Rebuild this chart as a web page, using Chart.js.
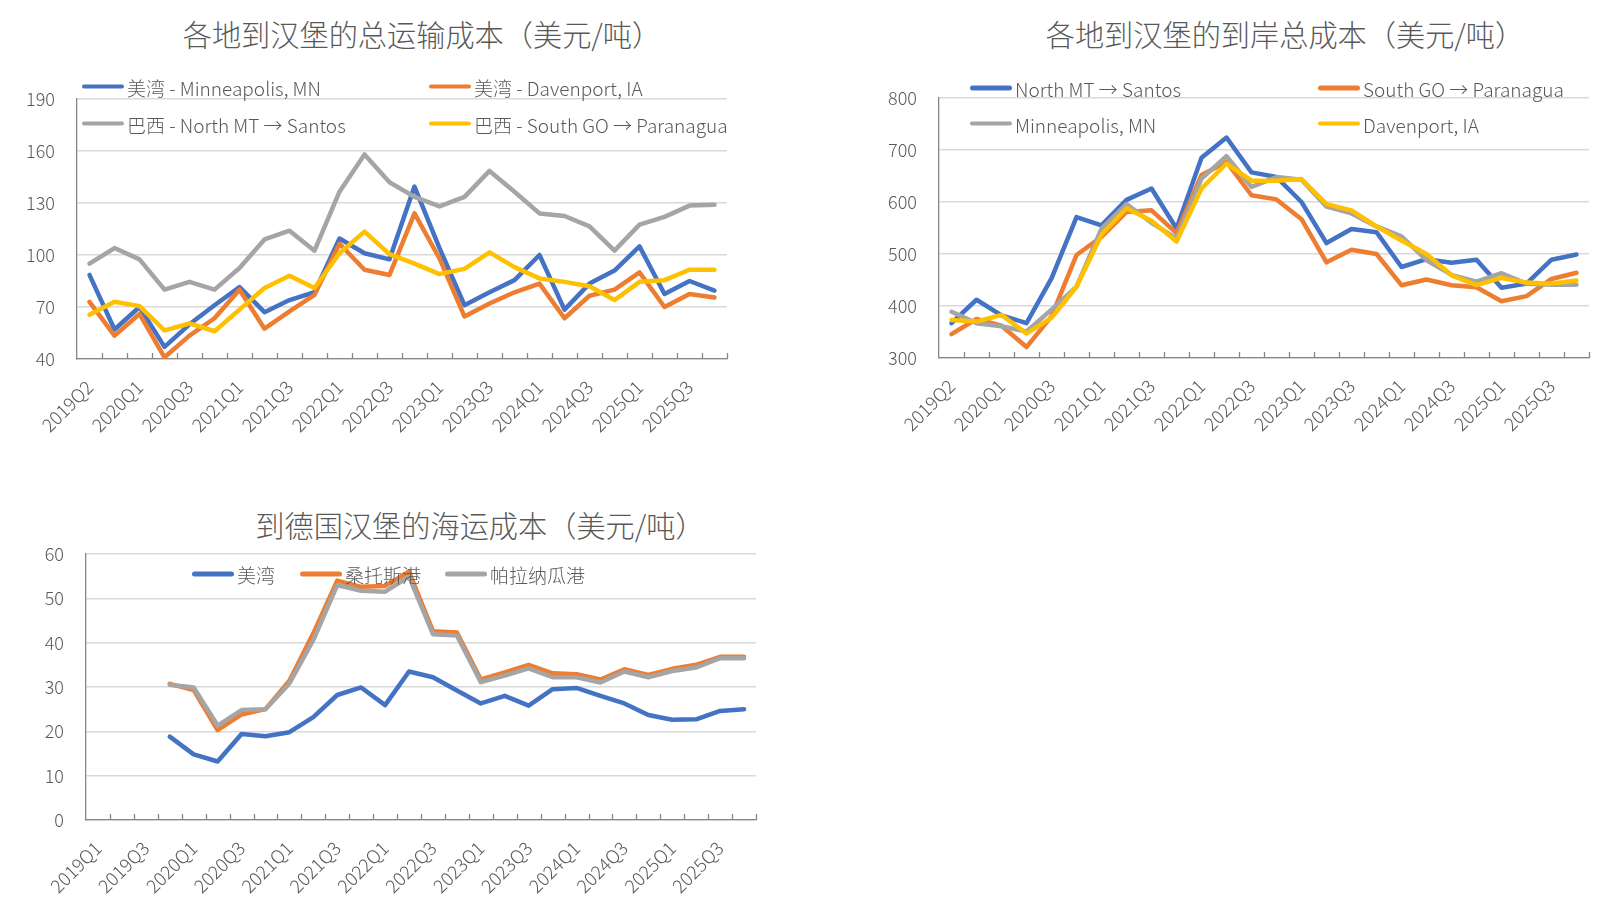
<!DOCTYPE html>
<html>
<head>
<meta charset="utf-8">
<script src="https://cdn.jsdelivr.net/npm/chart.js@4"></script>
<style>
  body { margin: 0; background: #fff; }
  #wrap { position: relative; width: 1614px; height: 906px; overflow: hidden;
          font-family: "Noto Sans CJK SC", "Noto Sans", sans-serif; color: #595959; font-weight: 300; }
  canvas { position: absolute; }
  .title { position: absolute; transform: translate(-50%, -50%); white-space: nowrap; font-size: 29.2px; }
  .leg { position: absolute; transform: translateY(-50%); white-space: nowrap; font-size: 19px;
         display: flex; align-items: center; }
  .leg i { display: inline-block; width: 42px; height: 4.5px; border-radius: 3px; margin-right: 3px; }
</style>
</head>
<body>
<div id="wrap">
  <div class="title" style="left:422px;top:33px">各地到汉堡的总运输成本（美元/吨）</div>
  <div class="title" style="left:1285px;top:33px">各地到汉堡的到岸总成本（美元/吨）</div>
  <div class="title" style="left:480px;top:524px">到德国汉堡的海运成本（美元/吨）</div>

  <canvas id="c1" width="760" height="450" style="left:0;top:0;width:760px;height:450px"></canvas>
  <canvas id="c2" width="754" height="450" style="left:860px;top:0;width:754px;height:450px"></canvas>
  <canvas id="c3" width="790" height="436" style="left:0;top:470px;width:790px;height:436px"></canvas>

  <div id="leg1"></div>
  <div id="leg2"></div>
  <div id="leg3"></div>
</div>

<script>
// ---- data ----
const quarters1 = ['2019Q2','2019Q4','2020Q1','2020Q2','2020Q3','2020Q4','2021Q1','2021Q2','2021Q3','2021Q4',
  '2022Q1','2022Q2','2022Q3','2022Q4','2023Q1','2023Q2','2023Q3','2023Q4','2024Q1','2024Q2','2024Q3','2024Q4',
  '2025Q1','2025Q2','2025Q3','2025Q4'];
const quarters3 = ['2019Q1','2019Q2','2019Q3','2019Q4','2020Q1','2020Q2','2020Q3','2020Q4','2021Q1','2021Q2',
  '2021Q3','2021Q4','2022Q1','2022Q2','2022Q3','2022Q4','2023Q1','2023Q2','2023Q3','2023Q4','2024Q1','2024Q2',
  '2024Q3','2024Q4','2025Q1','2025Q2','2025Q3','2025Q4'];

// chart 1: total transport cost to Hamburg
const usMinneapolis = [88.5, 57, 70, 47, 60, 71, 81.5, 67, 74, 78.5, 109.5, 101, 97.5, 139.5, 104, 71, 78.5, 85.5, 100, 68.5, 83.5, 91, 105, 77.5, 85, 79.5];
const usDavenport = [73, 53.5, 66, 41, 53.5, 63.5, 80, 57.5, 67.5, 77, 106.5, 91.5, 88.5, 124, 98, 64.5, 72, 78.5, 83.5, 63.5, 76.5, 80, 90, 70, 77.5, 75.5];
const brNorthMT = [95, 104, 97.5, 80, 84.5, 80, 92.5, 109, 114, 102.5, 136.5, 158, 142, 133.5, 128, 133.5, 148.5, 136.5, 124, 122.5, 116.5, 102.5, 117.5, 122, 128.5, 129];
const brSouthGO = [65.5, 73, 70.5, 56.5, 60.5, 56, 68.5, 81, 88, 81, 101, 113.5, 100.5, 95, 89, 92, 101.5, 93, 86.5, 84.5, 82, 74, 84.5, 85.5, 91.5, 91.5];
const names1 = ['美湾 - Minneapolis, MN', '美湾 - Davenport, IA', '巴西 - North MT → Santos', '巴西 - South GO → Paranagua'];

// chart 2: landed total cost
const landedSantos = [367, 412, 382, 367, 453, 571, 555, 604, 626, 549, 685, 724, 657, 648, 600, 521, 548, 542, 475, 490, 483, 489, 435, 443, 489, 499];
const landedParanagua = [346, 375, 362, 321, 380, 498, 533, 581, 584, 540, 652, 677, 613, 605, 567, 484, 508, 500, 440, 451, 440, 436, 409, 419, 452, 464];
const landedMinneapolis = [389, 367, 361, 351, 393, 437, 549, 596, 560, 530, 645, 688, 629, 648, 643, 591, 578, 553, 534, 488, 460, 447, 463, 443, 441, 441];
const landedDavenport = [373, 370, 383, 347, 377, 437, 537, 588, 564, 524, 626, 674, 641, 641, 644, 596, 584, 553, 526, 500, 459, 440, 454, 445, 443, 449];
const names2 = ['North MT → Santos', 'South GO → Paranagua', 'Minneapolis, MN', 'Davenport, IA'];

// chart 3: ocean freight to Hamburg
const oceanGulf = [null, null, null, 18.8, 14.8, 13.2, 19.4, 18.9, 19.8, 23.2, 28.2, 29.9, 25.9, 33.5, 32.2, 29.2, 26.3, 28, 25.8, 29.5, 29.8, 28, 26.3, 23.7, 22.6, 22.7, 24.6, 25];
const oceanSantos = [null, null, null, 30.7, 29.3, 20.3, 23.8, 25, 31.4, 42.1, 54, 52.6, 52.8, 56, 42.6, 42.3, 31.7, 33.3, 35, 33.1, 32.9, 31.7, 34, 32.7, 34.1, 35, 36.8, 36.8];
const oceanParanagua = [null, null, null, 30.5, 29.9, 21.3, 24.8, 25, 30.8, 40.6, 53, 51.7, 51.5, 54.9, 41.9, 41.6, 31.1, 32.6, 34.2, 32.2, 32.2, 31, 33.5, 32.2, 33.6, 34.4, 36.5, 36.5];
const names3 = ['美湾', '桑托斯港', '帕拉纳瓜港'];

const colors = ['#4472C4', '#ED7D31', '#A5A5A5', '#FFC000'];
const textColor = '#595959';
const axisColor = '#868686';
const gridColor = '#D9D9D9';

Chart.defaults.font.family = "'Noto Sans CJK SC', 'Noto Sans', sans-serif";
Chart.defaults.font.weight = 300;
Chart.defaults.color = textColor;

// Excel style tick marks pointing into the plot
const insideTicks = {
  id: 'insideTicks',
  beforeDatasetsDraw(chart) {
    const x = chart.scales.x;
    const ctx = chart.ctx;
    const n = chart.data.labels.length;
    const step = (x.right - x.left) / n;
    ctx.save();
    ctx.strokeStyle = axisColor;
    ctx.lineWidth = 1.3;
    for (let i = 1; i <= n; i++) {
      const px = Math.round(x.left + step * i) + 0.5;
      ctx.beginPath();
      ctx.moveTo(px, x.top);
      ctx.lineTo(px, x.top - 6);
      ctx.stroke();
    }
    ctx.restore();
  }
};

function makeChart(id, labels, series, names, yOpts, box) {
  const datasets = series.map((d, i) => ({
    label: names[i],
    data: d,
    borderColor: colors[i],
    backgroundColor: colors[i],
    borderWidth: 4.5,
    pointRadius: 0,
    tension: 0,
    fill: false,
    borderJoinStyle: 'round',
    borderCapStyle: 'round',
    order: -i
  }));

  return new Chart(document.getElementById(id), {
    type: 'line',
    data: { labels: labels, datasets: datasets },
    options: {
      responsive: false,
      animation: false,
      layout: { padding: { top: box.top, right: box.right, left: 0, bottom: 0 } },
      plugins: { legend: { display: false }, tooltip: { enabled: false } },
      scales: {
        x: {
          offset: true,
          grid: { display: true, drawOnChartArea: false, drawTicks: false, offset: true },
          border: { color: axisColor, width: 1.3 },
          ticks: {
            autoSkip: false,
            minRotation: 45,
            maxRotation: 45,
            padding: 17,
            color: textColor,
            font: { size: 18.5 },
            callback: function (v, i) { return i % 2 === 0 ? this.getLabelForValue(v) : ''; }
          },
          afterFit: s => { s.height = box.xh; }
        },
        y: {
          min: yOpts.min,
          max: yOpts.max,
          grid: { color: gridColor, lineWidth: 1.5, drawTicks: false },
          border: { color: axisColor, width: 1.3 },
          ticks: { stepSize: yOpts.step, padding: 22, color: textColor, font: { size: 18 } },
          afterFit: s => { s.width = box.yw; }
        }
      }
    },
    plugins: [insideTicks]
  });
}

function makeLegend(id, items) {
  const el = document.getElementById(id);
  items.forEach(it => {
    const d = document.createElement('div');
    d.className = 'leg';
    d.style.left = it.x + 'px';
    d.style.top = it.y + 'px';
    const line = document.createElement('i');
    line.style.background = it.color;
    d.appendChild(line);
    d.appendChild(document.createTextNode(it.text));
    el.appendChild(d);
  });
}

makeChart('c1', quarters1, [usMinneapolis, usDavenport, brNorthMT, brSouthGO], names1,
  { min: 40, max: 190, step: 30 }, { top: 99, right: 33, yw: 77, xh: 91 });
makeChart('c2', quarters1, [landedSantos, landedParanagua, landedMinneapolis, landedDavenport], names2,
  { min: 300, max: 800, step: 100 }, { top: 98, right: 25, yw: 79, xh: 92 });
makeChart('c3', quarters3, [oceanGulf, oceanSantos, oceanParanagua], names3,
  { min: 0, max: 60, step: 10 }, { top: 84, right: 34, yw: 86, xh: 86 });

makeLegend('leg1', [
  { x: 82, y: 86.5, text: names1[0], color: colors[0] },
  { x: 429, y: 86.5, text: names1[1], color: colors[1] },
  { x: 82, y: 123.5, text: names1[2], color: colors[2] },
  { x: 429, y: 123.5, text: names1[3], color: colors[3] }
]);
makeLegend('leg2', [
  { x: 970, y: 88, text: names2[0], color: colors[0] },
  { x: 1318, y: 88, text: names2[1], color: colors[1] },
  { x: 970, y: 123.5, text: names2[2], color: colors[2] },
  { x: 1318, y: 123.5, text: names2[3], color: colors[3] }
]);
makeLegend('leg3', [
  { x: 192, y: 574, text: names3[0], color: colors[0] },
  { x: 300, y: 574, text: names3[1], color: colors[1] },
  { x: 445, y: 574, text: names3[2], color: colors[2] }
]);
</script>
</body>
</html>
